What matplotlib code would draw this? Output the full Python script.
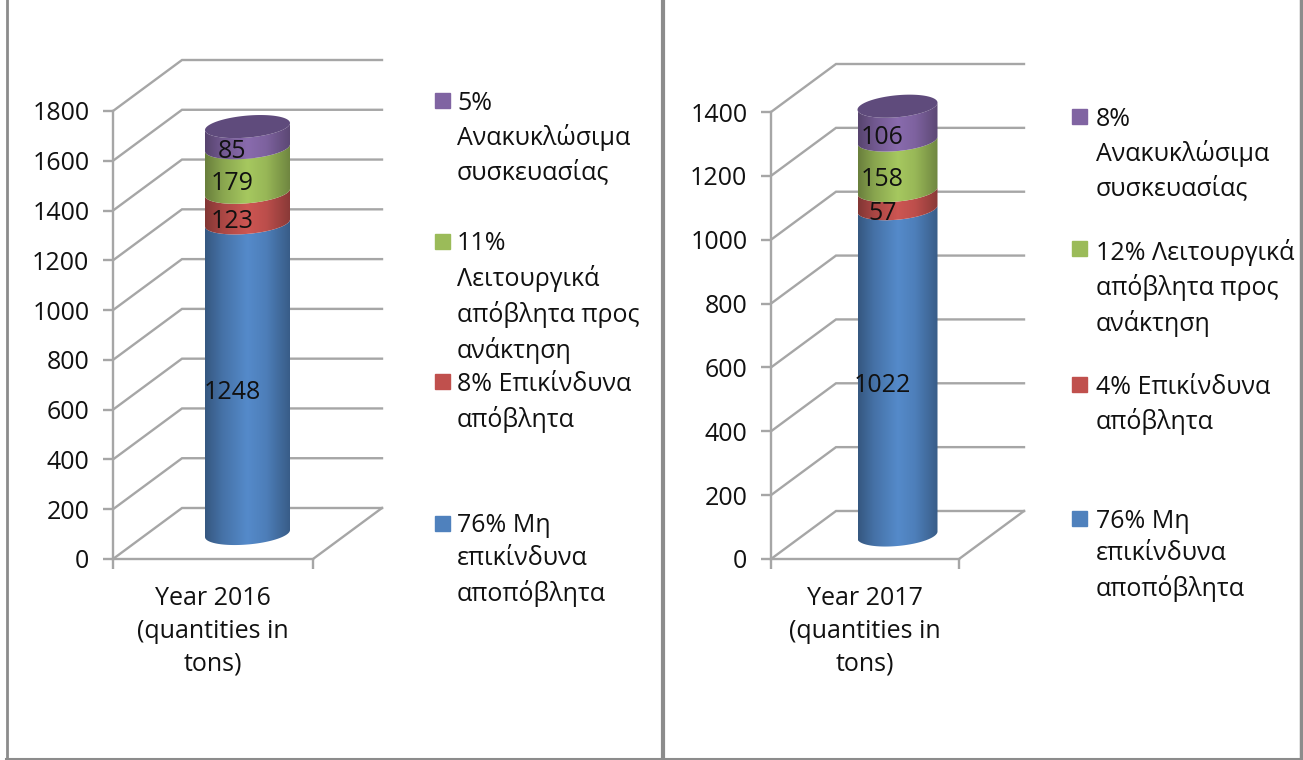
#coding:utf-8
#two 3D looking stacked cylinders, waste quantities per year
import numpy as np
import matplotlib
matplotlib.use('Agg')
import matplotlib.pyplot as plt
from matplotlib.path import Path
from matplotlib.patches import Rectangle
from matplotlib.lines import Line2D
from matplotlib.colors import to_rgb

plt.rcParams['font.family'] = ['Open Sans', 'Noto Sans', 'DejaVu Sans']

W, H = 1303, 760

# data, bottom to top of the stack
values_2016 = [1248, 123, 179, 85]
values_2017 = [1022, 57, 158, 106]
colors = ['#4f81bd', '#c0504d', '#9bbb59', '#8064a2']
cap_color = '#5f4b7c'
ticks_2016 = [0, 200, 400, 600, 800, 1000, 1200, 1400, 1600, 1800]
ticks_2017 = [0, 200, 400, 600, 800, 1000, 1200, 1400]
cat_2016 = 'Year 2016\n(quantities in\ntons)'
cat_2017 = 'Year 2017\n(quantities in\ntons)'
legend_2016 = ['76% Μη\nεπικίνδυνα\nαποπόβλητα', '8% Επικίνδυνα\nαπόβλητα',
               '11%\nΛειτουργικά\nαπόβλητα προς\nανάκτηση', '5%\nΑνακυκλώσιμα\nσυσκευασίας']
legend_2017 = ['76% Μη\nεπικίνδυνα\nαποπόβλητα', '4% Επικίνδυνα\nαπόβλητα',
               '12% Λειτουργικά\nαπόβλητα προς\nανάκτηση', '8%\nΑνακυκλώσιμα\nσυσκευασίας']

grid_c = '#a6a6a6'
FS = 18
LW = 1.7
SPACING = 1.42


def arc(cx, v, a, b, tilt, t):
    # point on the tilted ellipse round the cylinder at height v
    return cx + a * np.cos(t), v + tilt * np.cos(t) - b * np.sin(t)


def shaded(ax, path, color, cx, a, lo, hi):
    # side of the cylinder: dark edges, lighter middle
    xs = np.linspace(0, 1, 80)
    k = np.interp(xs, [0, 0.2, 0.5, 0.72, 1], [0.68, 0.88, 1.07, 0.98, 0.72])
    img = np.clip(np.outer(k, to_rgb(color)), 0, 1)[np.newaxis, :, :]
    im = ax.imshow(img, extent=[cx - a, cx + a, lo, hi], aspect='auto', zorder=3, origin='lower')
    im.set_clip_path(path, transform=ax.transData)
    return im


def panel(fig, box, dx_px, dy_px, top, values, ticks, cat, cyl_px, legend_labels, legend_x, square_x, legend_y):
    x0, x1, y_top, y_zero = box
    ax = fig.add_axes([x0 / W, 1 - y_zero / H, (x1 - x0) / W, (y_zero - y_top) / H])
    ax.set_xlim(0, 1)
    ax.set_ylim(0, top)
    px_x = 1.0 / (x1 - x0)
    px_y = top / float(y_zero - y_top)
    dx = dx_px * px_x
    dy = dy_px * px_y

    # walls and floor
    for t in ticks:
        ax.plot([0, dx, 1 + dx], [t, t + dy, t + dy], color=grid_c, lw=LW,
                clip_on=False, zorder=1, solid_joinstyle='miter')
    ax.plot([1, 1 + dx], [0, dy], color=grid_c, lw=LW, clip_on=False, zorder=1)

    for s in ['top', 'right']:
        ax.spines[s].set_visible(False)
    for s in ['left', 'bottom']:
        ax.spines[s].set_color(grid_c)
        ax.spines[s].set_linewidth(LW)
    ax.set_yticks(ticks)
    ax.set_xticks([0, 1])
    ax.set_xticklabels(['', ''])
    ax.tick_params(axis='y', length=7, width=LW, color=grid_c, labelsize=FS, labelcolor='#111111', pad=10)
    ax.tick_params(axis='x', length=7, width=LW, color=grid_c)
    ax.text(0.5, -27 * px_y, cat, ha='center', va='top', fontsize=FS, color='#111111', linespacing=SPACING)

    # cylinder
    cx = 0.5 + dx / 2
    base = dy / 2
    a = cyl_px[0] * px_x
    b = cyl_px[1] * px_y
    tilt = cyl_px[2] * px_y
    t_front = np.linspace(np.pi, 0, 80)
    v = 0
    for val, c in zip(values, colors):
        lo = base + v
        hi = lo + val
        xl, yl = arc(cx, lo, a, b, tilt, t_front)
        xh, yh = arc(cx, hi, a, b, tilt, t_front)
        pts = np.column_stack([np.r_[xl, xh[::-1]], np.r_[yl, yh[::-1]]])
        im = shaded(ax, Path(np.vstack([pts, pts[:1]]), closed=True), c, cx, a, lo - 2 * b, hi + 2 * b)
        im.set_clip_box(fig.bbox)
        ax.annotate(str(val), (cx, lo + val / 2.0), xytext=(-11, -10), textcoords='offset points',
                    ha='center', va='center', fontsize=FS, color='#111111', zorder=6,
                    annotation_clip=False)
        v += val
    t_all = np.linspace(0, 2 * np.pi, 160)
    xc, yc = arc(cx, base + v, a, b, tilt, t_all)
    ax.fill(xc, yc, color=cap_color, zorder=4, clip_on=False, lw=0)
    ax.set_xlim(0, 1)
    ax.set_ylim(0, top)

    # legend, same order as the stack
    for label, c, y in zip(legend_labels, colors, legend_y):
        fig.add_artist(Rectangle((square_x / W, 1 - (y + 7.5) / H), 15.0 / W, 15.0 / H, color=c,
                                 transform=fig.transFigure))
        fig.text(legend_x / W, 1 - (y - 9.5) / H, label, ha='left', va='top', fontsize=FS,
                 color='#111111', linespacing=SPACING)


fig = plt.figure(figsize=(W / 100.0, H / 100.0), dpi=100, facecolor='white')

panel(fig, (113, 313, 111, 559), 69, 51, 1800, values_2016, ticks_2016, cat_2016,
      (42.5, 11, 3.5), legend_2016, 457, 435, [523, 382, 241, 100])
panel(fig, (771, 959, 112, 559), 65, 48, 1400, values_2017, ticks_2017, cat_2017,
      (40, 11, 3.5), legend_2017, 1096, 1072, [518, 384, 248, 116])

# frame lines round the panels
frame_c = '#8c8c8c'
for xs, ys, lw in [((6.5, 6.5), (0, 760), 2), ((663, 663), (0, 760), 3),
                   ((1300.5, 1300.5), (0, 760), 2.5), ((6, 1301), (759, 759), 1.5)]:
    fig.add_artist(Line2D([x / W for x in xs], [1 - y / H for y in ys], color=frame_c, lw=lw))

fig.savefig('out.png', dpi=100)
